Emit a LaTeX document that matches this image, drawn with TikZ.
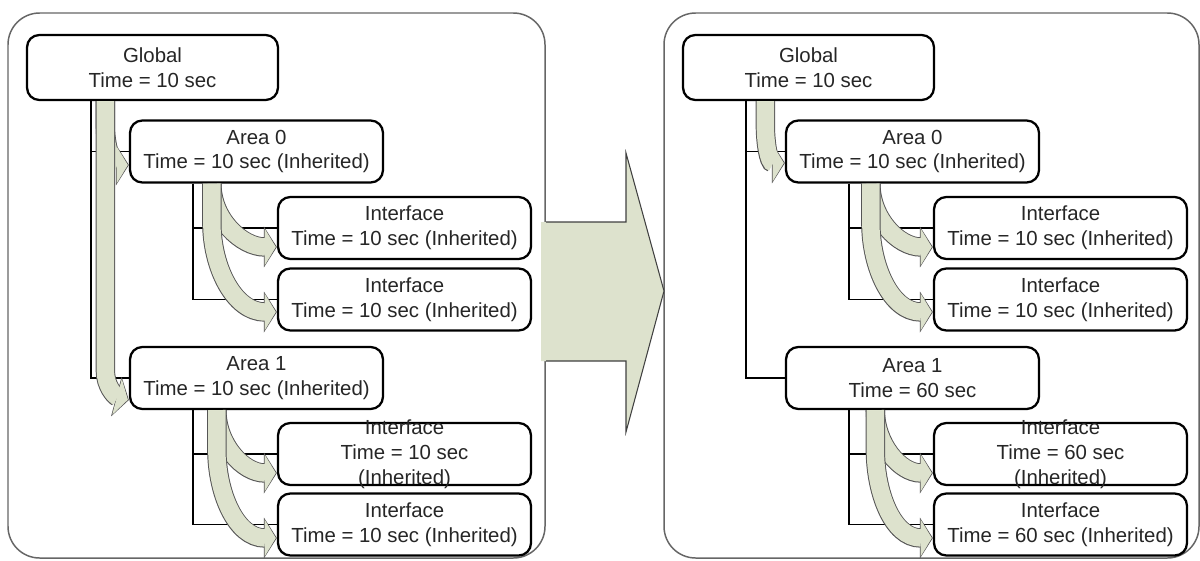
\documentclass[tikz,border=0pt]{standalone}
\usepackage{fontspec}
\setmainfont{Liberation Sans}
\usetikzlibrary{arrows.meta}
\definecolor{sage}{HTML}{DDE2CD}
\definecolor{edgegray}{HTML}{555555}
\newcommand{\flowarrow}[1]{\draw[flow] #1; \draw[flowin] #1;}
\tikzset{
  box/.style={draw, line width=1.3pt, rounded corners=7pt, fill=white, align=center,
    minimum width=5.06cm, minimum height=1.24cm, inner sep=0pt, text=black!85,
    font=\fontsize{11.6}{14.2}\selectfont},
  tree/.style={line width=1.1pt},
  panel/.style={draw=black!60, line width=0.85pt, rounded corners=18pt},
  flow/.style={line width=11pt, draw=edgegray, -{Triangle[width=23pt,length=7.4pt]}},
  flowin/.style={line width=9.9pt, draw=sage, -{Triangle[width=20.8pt,length=6.4pt]}, shorten >=0.6pt},
}
\begin{document}
\begin{tikzpicture}[x=0.02cm, y=-0.02cm]
  \useasboundingbox (0,0) rectangle (1200,561);
  % panels
  \draw[panel] (8,13) rectangle (545,558);
  \draw[panel] (664,13) rectangle (1199,558);
  % big arrow between the panels
  \fill[sage] (541,222) -- (626,222) -- (626,153) -- (664,291) -- (626,432) -- (626,361) -- (541,361) -- cycle;
  \draw[line width=0.6pt, draw=black!75] (546,222) -- (626,222) -- (626,153) -- (664,291) -- (626,432) -- (626,361) -- (546,361);

  % left: before
  \node[box, minimum width=5.02cm, minimum height=1.3cm] (glob) at (152.5,67.5) {Global\\Time = 10 sec};
  \node[box] (a0) at (256.5,151.5) {Area 0\\Time = 10 sec (Inherited)};
  \node[box] (if1) at (404.5,228) {Interface\\Time = 10 sec (Inherited)};
  \node[box] (if2) at (404.5,299.5) {Interface\\Time = 10 sec (Inherited)};
  \node[box] (a1) at (256.5,378) {Area 1\\Time = 10 sec (Inherited)};
  \node[box] (if3) at (404.5,454) {\parbox[c][1.24cm][c]{5cm}{\centering Interface\\Time = 10 sec\\(Inherited)}};
  \node[box] (if4) at (404.5,524.5) {Interface\\Time = 10 sec (Inherited)};

  \draw[tree] ([xshift=1.3cm]glob.south west) |- (a0.west);
  \draw[tree] ([xshift=1.3cm]glob.south west) |- (a1.west);
  \draw[tree] ([xshift=1.28cm]a0.south west) |- (if1.west);
  \draw[tree] ([xshift=1.28cm]a0.south west) |- (if2.west);
  \draw[tree] ([xshift=1.28cm]a1.south west) |- (if3.west);
  \draw[tree] ([xshift=1.28cm]a1.south west) |- (if4.west);

  \flowarrow{([xshift=1.59cm]glob.south west) -- ++(0,25) to[out=-90,in=180] ([yshift=-0.27cm]a0.west)}
  \flowarrow{([xshift=1.59cm]glob.south west) -- ++(0,270) to[out=-90,in=165] ([yshift=-0.44cm]a1.west)}
  \flowarrow{([xshift=1.66cm]a0.south west) to[out=-90,in=180] ([yshift=-0.38cm]if1.west)}
  \flowarrow{([xshift=1.66cm]a0.south west) -- ++(0,40) to[out=-90,in=180] ([yshift=-0.25cm]if2.west)}
  \flowarrow{([xshift=1.76cm]a1.south west) to[out=-90,in=180] ([yshift=-0.38cm]if3.west)}
  \flowarrow{([xshift=1.76cm]a1.south west) -- ++(0,40) to[out=-90,in=180] ([yshift=-0.27cm]if4.west)}

  % right: after
  \node[box, minimum width=5.02cm, minimum height=1.3cm] (rglob) at (808.5,67.5) {Global\\Time = 10 sec};
  \node[box] (ra0) at (912.5,151.5) {Area 0\\Time = 10 sec (Inherited)};
  \node[box] (rif1) at (1060.5,228) {Interface\\Time = 10 sec (Inherited)};
  \node[box] (rif2) at (1060.5,299.5) {Interface\\Time = 10 sec (Inherited)};
  \node[box] (ra1) at (912.5,378) {Area 1\\Time = 60 sec};
  \node[box] (rif3) at (1060.5,454) {\parbox[c][1.24cm][c]{5cm}{\centering Interface\\Time = 60 sec\\(Inherited)}};
  \node[box] (rif4) at (1060.5,524.5) {Interface\\Time = 60 sec (Inherited)};

  \draw[tree] ([xshift=1.28cm]rglob.south west) |- (ra0.west);
  \draw[tree] ([xshift=1.28cm]rglob.south west) |- (ra1.west);
  \draw[tree] ([xshift=1.28cm]ra0.south west) |- (rif1.west);
  \draw[tree] ([xshift=1.28cm]ra0.south west) |- (rif2.west);
  \draw[tree] ([xshift=1.28cm]ra1.south west) |- (rif3.west);
  \draw[tree] ([xshift=1.28cm]ra1.south west) |- (rif4.west);

  \flowarrow{([xshift=1.67cm]rglob.south west) -- ++(0,25) to[out=-90,in=180] ([yshift=-0.23cm]ra0.west)}
  \flowarrow{([xshift=1.72cm]ra0.south west) to[out=-90,in=180] ([yshift=-0.38cm]rif1.west)}
  \flowarrow{([xshift=1.72cm]ra0.south west) -- ++(0,40) to[out=-90,in=180] ([yshift=-0.25cm]rif2.west)}
  \flowarrow{([xshift=1.81cm]ra1.south west) to[out=-90,in=180] ([yshift=-0.38cm]rif3.west)}
  \flowarrow{([xshift=1.81cm]ra1.south west) -- ++(0,40) to[out=-90,in=180] ([yshift=-0.27cm]rif4.west)}
\end{tikzpicture}
\end{document}
